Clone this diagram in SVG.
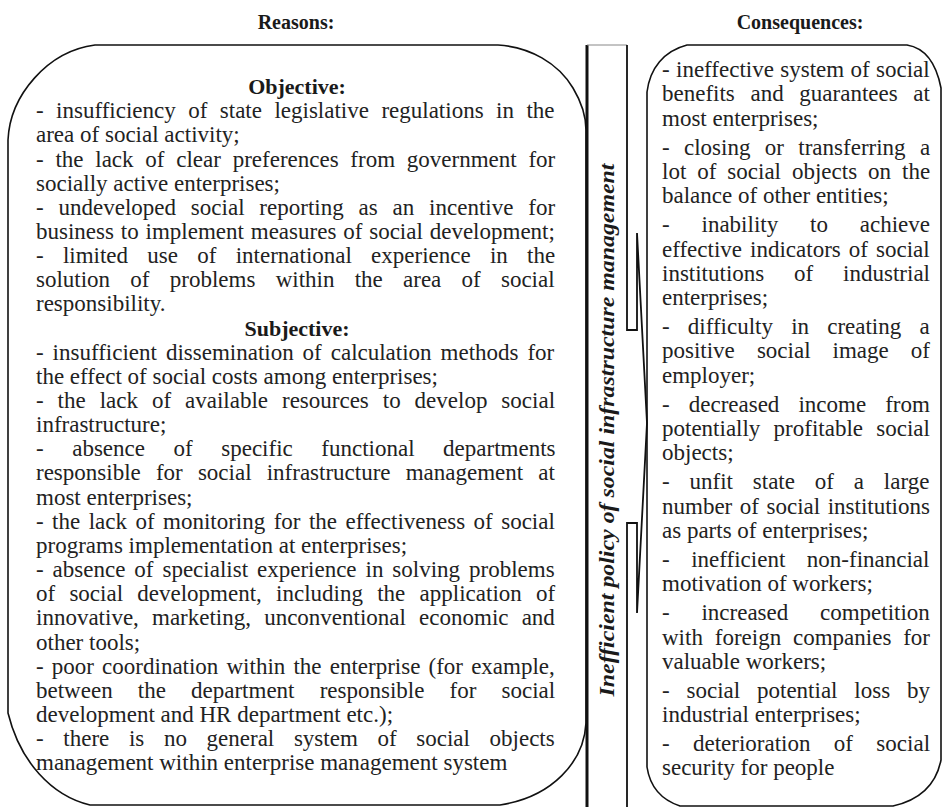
<svg xmlns="http://www.w3.org/2000/svg" width="948" height="807" viewBox="0 0 948 807">
<style>
.t{font-family:"Liberation Serif","Times New Roman",serif;font-size:23px;fill:#222}
.h{font-family:"Liberation Serif","Times New Roman",serif;font-weight:bold;font-size:20px;fill:#1a1a1a;text-anchor:middle}
.sh{font-family:"Liberation Serif","Times New Roman",serif;font-weight:bold;font-size:22px;fill:#1a1a1a;text-anchor:middle}
.v{font-family:"Liberation Serif","Times New Roman",serif;font-weight:bold;font-style:italic;font-size:21px;fill:#1a1a1a;text-anchor:middle}
.box{fill:none;stroke:#111;stroke-width:1.6;stroke-linejoin:round}
.ln{fill:none;stroke:#111;stroke-width:1.8}
</style>
<rect width="948" height="807" fill="#fff"/>
<g id="reasons-header"><text class="h" x="296" y="29">Reasons:</text></g>
<g id="consequences-header"><text class="h" x="800" y="29">Consequences:</text></g>

<g id="reasons">
<path class="box" d="M95,45 H498 C530,47 558,63 573,88 C582,103 586,117 586,130 V723 C584,762 552,797 500,805 H90 C52,796 20,762 8,713 V140 C10,95 48,51 95,45 Z"/>
<text class="sh" x="297" y="94">Objective:</text>
<text class="t" x="36" y="118.2" word-spacing="6.7">- insufficiency of state legislative regulations in the</text>
<text class="t" x="36" y="142.3">area of social activity;</text>
<text class="t" x="36" y="166.5" word-spacing="6">- the lack of clear preferences from government for</text>
<text class="t" x="36" y="190.6">socially active enterprises;</text>
<text class="t" x="36" y="214.8" word-spacing="9.1">- undeveloped social reporting as an incentive for</text>
<text class="t" x="36" y="238.9" word-spacing="1.1">business to implement measures of social development;</text>
<text class="t" x="36" y="263.1" word-spacing="13.5">- limited use of international experience in the</text>
<text class="t" x="36" y="287.2" word-spacing="14.5">solution of problems within the area of social</text>
<text class="t" x="36" y="311.4">responsibility.</text>
<text class="sh" x="297" y="335.5">Subjective:</text>
<text class="t" x="36" y="359.7" word-spacing="3.2">- insufficient dissemination of calculation methods for</text>
<text class="t" x="36" y="383.8">the effect of social costs among enterprises;</text>
<text class="t" x="36" y="408" word-spacing="8.2">- the lack of available resources to develop social</text>
<text class="t" x="36" y="432.1">infrastructure;</text>
<text class="t" x="36" y="456.3" word-spacing="22.8">- absence of specific functional departments</text>
<text class="t" x="36" y="480.4" word-spacing="9.4">responsible for social infrastructure management at</text>
<text class="t" x="36" y="504.6">most enterprises;</text>
<text class="t" x="36" y="528.7" word-spacing="2.7">- the lack of monitoring for the effectiveness of social</text>
<text class="t" x="36" y="552.9">programs implementation at enterprises;</text>
<text class="t" x="36" y="577" word-spacing="3.2">- absence of specialist experience in solving problems</text>
<text class="t" x="36" y="601.2" word-spacing="8.5">of social development, including the application of</text>
<text class="t" x="36" y="625.3" word-spacing="7.4">innovative, marketing, unconventional economic and</text>
<text class="t" x="36" y="649.5">other tools;</text>
<text class="t" x="36" y="673.6" word-spacing="2.4">- poor coordination within the enterprise (for example,</text>
<text class="t" x="36" y="697.8" word-spacing="19.4">between the department responsible for social</text>
<text class="t" x="36" y="721.9">development and HR department etc.);</text>
<text class="t" x="36" y="746.1" word-spacing="13.9">- there is no general system of social objects</text>
<text class="t" x="36" y="770.2">management within enterprise management system</text>
</g>

<g id="policy">
<line x1="587" y1="45" x2="587" y2="807" stroke="#111" stroke-width="3"/>
<line x1="587" y1="45" x2="627" y2="45" stroke="#888" stroke-width="1"/>
<text class="v" transform="translate(614,430) rotate(-90)" x="0" y="0" textLength="533" lengthAdjust="spacingAndGlyphs">Inefficient policy of social infrastructure management</text>
</g>

<g id="connectors">
<path class="ln" d="M627,45 V330 H637 V233 L647,423 L637,613 V523 H627 V807"/>
</g>

<g id="consequences">
<path class="box" d="M687,45 H907 C925,48 936,62 941,88 V760 C936,785 920,800 893,806 H680 C662,800 650,787 647,767 V92 C650,68 664,51 687,45 Z"/>
<text class="t" x="662" y="77" word-spacing="0.6">- ineffective system of social</text>
<text class="t" x="662" y="101.3" word-spacing="9.9">benefits and guarantees at</text>
<text class="t" x="662" y="125.6">most enterprises;</text>
<text class="t" x="662" y="154.6" word-spacing="8.6">- closing or transferring a</text>
<text class="t" x="662" y="178.9" word-spacing="5.2">lot of social objects on the</text>
<text class="t" x="662" y="203.2">balance of other entities;</text>
<text class="t" x="662" y="232.2" word-spacing="26.1">- inability to achieve</text>
<text class="t" x="662" y="256.5" word-spacing="2.3">effective indicators of social</text>
<text class="t" x="662" y="280.8" word-spacing="24.1">institutions of industrial</text>
<text class="t" x="662" y="305.1">enterprises;</text>
<text class="t" x="662" y="334.1" word-spacing="12.4">- difficulty in creating a</text>
<text class="t" x="662" y="358.4" word-spacing="16.3">positive social image of</text>
<text class="t" x="662" y="382.7">employer;</text>
<text class="t" x="662" y="411.7" word-spacing="13.3">- decreased income from</text>
<text class="t" x="662" y="436" word-spacing="7.5">potentially profitable social</text>
<text class="t" x="662" y="460.3">objects;</text>
<text class="t" x="662" y="489.3" word-spacing="14.1">- unfit state of a large</text>
<text class="t" x="662" y="513.6" word-spacing="1.8">number of social institutions</text>
<text class="t" x="662" y="537.9">as parts of enterprises;</text>
<text class="t" x="662" y="566.9" word-spacing="15.8">- inefficient non-financial</text>
<text class="t" x="662" y="591.2">motivation of workers;</text>
<text class="t" x="662" y="620.2" word-spacing="26">- increased competition</text>
<text class="t" x="662" y="644.5" word-spacing="6.1">with foreign companies for</text>
<text class="t" x="662" y="668.8">valuable workers;</text>
<text class="t" x="662" y="697.8" word-spacing="11.1">- social potential loss by</text>
<text class="t" x="662" y="722.1">industrial enterprises;</text>
<text class="t" x="662" y="751.1" word-spacing="17.6">- deterioration of social</text>
<text class="t" x="662" y="775.4">security for people</text>
</g>
</svg>
